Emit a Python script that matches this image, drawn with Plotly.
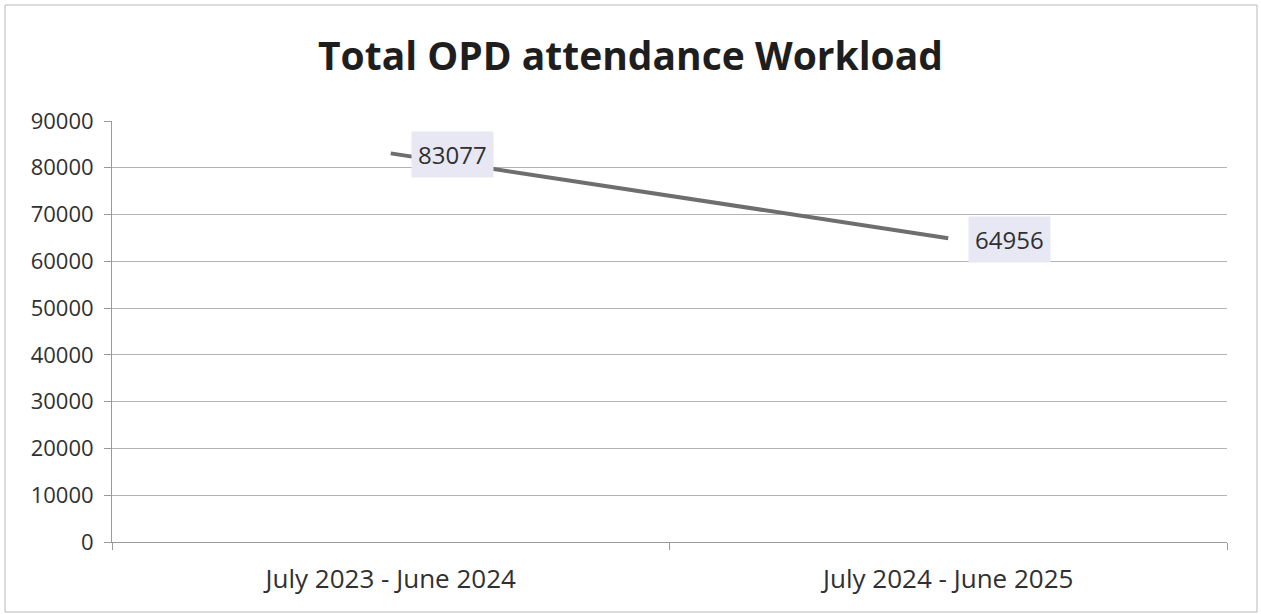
import plotly.graph_objects as go

categories = ["July 2023 - June 2024", "July 2024 - June 2025"]
attendance = [83077, 64956]
y_ticks = [0, 10000, 20000, 30000, 40000, 50000, 60000, 70000, 80000, 90000]

W, H = 1261, 614
ml, mr, mt, mb = 112, 34, 121, 72
pw, ph = W - ml - mr, H - mt - mb
FONT = "Open Sans, Noto Sans, sans-serif"

fig = go.Figure()
fig.add_trace(go.Scatter(
    x=categories, y=attendance, mode="lines",
    line=dict(color="#6e6e6e", width=4),
    hoverinfo="x+y", showlegend=False,
))

for c, v in zip(categories, attendance):
    fig.add_annotation(
        x=c, y=v, xref="x", yref="y", text=str(v), showarrow=False,
        xanchor="left", yanchor="middle", xshift=20, yshift=-1,
        font=dict(family=FONT, size=24, color="#303030"),
        bgcolor="#e8e8f4", borderpad=6,
    )

# outer chart border
fig.add_shape(type="rect", xref="paper", yref="paper",
              x0=(5 - ml) / pw, x1=(1257 - ml) / pw,
              y0=(H - mb - 612) / ph, y1=(H - mb - 5) / ph,
              line=dict(color="#b8b8b8", width=1), layer="below")

fig.update_layout(
    width=W, height=H,
    margin=dict(l=ml, r=mr, t=mt, b=mb, autoexpand=False),
    paper_bgcolor="white", plot_bgcolor="white",
    title=dict(text="<b>Total OPD attendance Workload</b>", x=0.5, xref="container",
               xanchor="center", y=1 - 56 / H, yanchor="middle",
               font=dict(family=FONT, size=39, color="#1e1e1e")),
    xaxis=dict(
        type="category", range=[-0.5, 1.5], tickson="boundaries",
        ticks="outside", ticklen=7, tickcolor="#9a9a9a",
        showgrid=False, showline=True, linecolor="#9a9a9a", linewidth=1,
        ticklabelstandoff=14,
        tickfont=dict(family=FONT, size=26, color="#303030"),
    ),
    yaxis=dict(
        range=[0, 90000], tickvals=y_ticks, ticktext=[str(t) for t in y_ticks],
        ticks="outside", ticklen=7, tickcolor="#9a9a9a",
        showgrid=True, gridcolor="#b4b4b4", gridwidth=1,
        showline=True, linecolor="#9a9a9a", linewidth=1, zeroline=False,
        ticklabelstandoff=6,
        tickfont=dict(family=FONT, size=22, color="#303030"),
    ),
)

fig.write_html("out.html")
